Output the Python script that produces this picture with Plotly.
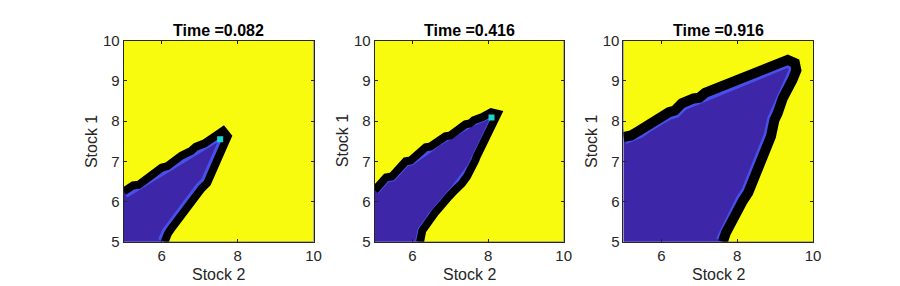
import plotly.graph_objects as go

# ---------------- data ----------------
titles = ["Time =0.082", "Time =0.416", "Time =0.916"]
x_label = "Stock 2"
y_label = "Stock 1"
x_ticks = [6, 8, 10]
y_ticks = [5, 6, 7, 8, 9, 10]
axis_range = [5, 10]

# boundary (front) of the blue region, as (Stock 2, Stock 1) points
front_x_1 = [5.00, 5.25, 5.40, 5.60, 5.75, 6.00, 6.15, 6.40, 6.52, 6.78, 6.90, 7.12, 7.26, 7.48, 7.62, 7.74, 7.66, 7.60, 7.50, 7.45, 7.36, 7.28, 7.20, 7.05, 6.95, 6.85, 6.68, 6.60, 6.50, 6.33, 6.25, 6.17, 6.08]
front_y_1 = [6.25, 6.40, 6.42, 6.58, 6.66, 6.84, 6.88, 7.06, 7.14, 7.26, 7.36, 7.44, 7.55, 7.67, 7.76, 7.62, 7.45, 7.33, 7.12, 6.92, 6.78, 6.66, 6.46, 6.32, 6.20, 6.07, 5.88, 5.82, 5.66, 5.45, 5.32, 5.21, 5.00]

front_x_2 = [5.00, 5.30, 5.45, 5.55, 5.82, 5.95, 6.08, 6.35, 6.48, 6.60, 6.87, 7.00, 7.12, 7.40, 7.52, 7.62, 7.85, 7.95, 8.08, 8.25, 8.12, 8.08, 7.98, 7.92, 7.84, 7.75, 7.70, 7.66, 7.57, 7.50, 7.44, 7.31, 7.20, 7.12, 6.96, 6.86, 6.78, 6.61, 6.52, 6.44, 6.26, 6.20]
front_y_2 = [6.28, 6.60, 6.62, 6.74, 7.00, 7.02, 7.12, 7.35, 7.37, 7.46, 7.62, 7.64, 7.74, 7.92, 7.94, 8.02, 8.10, 8.13, 8.22, 8.18, 7.95, 7.80, 7.70, 7.60, 7.38, 7.22, 7.12, 7.02, 6.84, 6.74, 6.62, 6.45, 6.38, 6.28, 6.12, 6.04, 5.92, 5.74, 5.62, 5.50, 5.28, 5.00]

front_x_3 = [5.00, 5.20, 5.41, 5.65, 5.80, 5.93, 6.20, 6.35, 6.54, 6.85, 7.00, 7.15, 7.42, 7.55, 7.68, 8.00, 8.12, 8.29, 8.55, 8.68, 8.81, 9.00, 9.16, 9.33, 9.52, 9.56, 9.46, 9.33, 9.20, 9.07, 8.98, 8.89, 8.80, 8.72, 8.62, 8.55, 8.42, 8.29, 8.15, 8.03, 7.92, 7.81, 7.70, 7.62]
front_y_3 = [7.60, 7.64, 7.76, 7.92, 7.96, 8.08, 8.22, 8.26, 8.44, 8.56, 8.58, 8.70, 8.80, 8.82, 8.90, 9.00, 9.02, 9.12, 9.20, 9.22, 9.32, 9.36, 9.46, 9.52, 9.44, 9.26, 9.03, 8.80, 8.56, 8.20, 8.02, 7.62, 7.40, 7.16, 6.90, 6.69, 6.45, 6.22, 6.02, 5.83, 5.62, 5.44, 5.22, 5.00]

marker_x = [7.54, 8.09]
marker_y = [7.55, 8.09]

# ---------------- style ----------------
YELLOW = "#F9FB0E"
DARK_BLUE = "#3D27A8"
LIGHT_BLUE = "#4750EA"
CYAN = "#1ED2CF"
AX_COL = "#262626"
FONT = "Liberation Sans, Arial, sans-serif"

panels = [
    (front_x_1, front_y_1, 8, 14),
    (front_x_2, front_y_2, 8, 10),
    (front_x_3, front_y_3, 10, 15),
]

x_domains = [[116.7 / 900, 308.3 / 900], [370.0 / 900, 560.7 / 900], [621.0 / 900, 812.3 / 900]]
y_domain = [1 - 239 / 286, 1 - 25 / 286]

fig = go.Figure()

for i, (fx, fy, w_black, w_light) in enumerate(panels):
    xa = "x" if i == 0 else f"x{i+1}"
    ya = "y" if i == 0 else f"y{i+1}"
    # light blue band just inside the front
    fig.add_trace(go.Scatter(x=fx, y=fy, mode="lines", xaxis=xa, yaxis=ya,
                             line=dict(color=LIGHT_BLUE, width=w_light), hoverinfo="skip",
                             showlegend=False))
    # yellow complement region (outside the front)
    cx = list(fx) + [axis_range[1], axis_range[1], axis_range[0], fx[0]]
    cy = list(fy) + [axis_range[0], axis_range[1], axis_range[1], fy[0]]
    fig.add_trace(go.Scatter(x=cx, y=cy, mode="lines", fill="toself", fillcolor=YELLOW,
                             xaxis=xa, yaxis=ya, line=dict(width=0, color=YELLOW),
                             hoverinfo="skip", showlegend=False))
    # black contour band
    fig.add_trace(go.Scatter(x=fx, y=fy, mode="lines", xaxis=xa, yaxis=ya,
                             line=dict(color="black", width=w_black), hoverinfo="skip",
                             showlegend=False))
    if i < len(marker_x):
        fig.add_trace(go.Scatter(x=[marker_x[i]], y=[marker_y[i]], mode="markers",
                                 xaxis=xa, yaxis=ya,
                                 marker=dict(symbol="square", size=6, color=CYAN,
                                             line=dict(width=0)),
                                 hoverinfo="skip", showlegend=False))

axis_common = dict(range=axis_range, showgrid=False, zeroline=False, showline=True,
                   linecolor=AX_COL, linewidth=1, mirror="ticks", ticks="inside",
                   ticklen=3, tickcolor=AX_COL, tickfont=dict(family=FONT, size=15, color=AX_COL))

layout = dict(width=900, height=286, margin=dict(l=0, r=0, t=0, b=0),
              paper_bgcolor="white", plot_bgcolor=DARK_BLUE, showlegend=False)

annotations = []
for i in range(3):
    suffix = "" if i == 0 else str(i + 1)
    layout["xaxis" + suffix] = dict(axis_common, domain=x_domains[i], tickvals=x_ticks,
                                    anchor="y" + suffix)
    layout["yaxis" + suffix] = dict(axis_common, domain=y_domain, tickvals=y_ticks,
                                    anchor="x" + suffix)
    cx = (x_domains[i][0] + x_domains[i][1]) / 2
    annotations.append(dict(text="<b>" + titles[i] + "</b>", x=cx, y=1 - 14 / 286,
                            xref="paper", yref="paper", showarrow=False,
                            font=dict(family=FONT, size=16, color="black"),
                            xanchor="center", yanchor="middle"))
    annotations.append(dict(text=x_label, x=cx, y=1 - 274 / 286, xref="paper", yref="paper",
                            showarrow=False, font=dict(family=FONT, size=16, color=AX_COL),
                            xanchor="center", yanchor="middle"))
    annotations.append(dict(text=y_label, x=x_domains[i][0] - 33 / 900, y=1 - 132 / 286,
                            xref="paper", yref="paper", showarrow=False, textangle=-90,
                            font=dict(family=FONT, size=16, color=AX_COL),
                            xanchor="center", yanchor="middle"))

layout["annotations"] = annotations
fig.update_layout(**layout)
fig.write_html("out.html")
